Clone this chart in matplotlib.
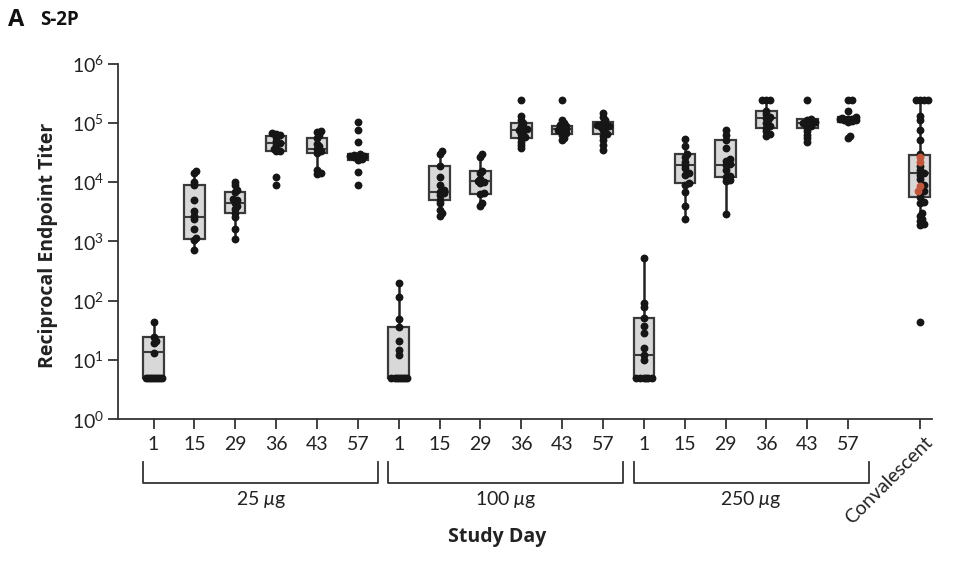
import numpy as np
import matplotlib
matplotlib.use("Agg")
import matplotlib.pyplot as plt

# ---- data ----
day_labels = ["1", "15", "29", "36", "43", "57"]
dose_labels = ["25 $\\mu$g", "100 $\\mu$g", "250 $\\mu$g"]

# individual titers per study day, one list per dose
pts_25 = [
    [5] * 9 + [13, 19, 21, 24, 44],
    [15500, 14000, 10200, 8900, 4900, 3200, 2700, 2400, 1650, 1150, 1050, 720],
    [10200, 8900, 7500, 6700, 5200, 4900, 4400, 3900, 3500, 3000, 2600, 1650, 1100],
    [68000, 66000, 62000, 58000, 50000, 45000, 42000, 36000, 34000, 33000, 12300, 8900],
    [74000, 70000, 62000, 56000, 44000, 40000, 36000, 33000, 31000, 16000, 14500, 13700],
    [104000, 76000, 47000, 30000, 29000, 28000, 27500, 27000, 26000, 25000, 24000, 15000, 9000],
]
pts_100 = [
    [5] * 8 + [12, 15, 21, 36, 50, 114, 200],
    [33500, 30000, 18600, 12300, 8900, 7500, 6900, 6500, 6000, 5000, 4400, 3400, 3000, 2700],
    [29500, 27000, 15500, 14000, 11500, 10500, 10000, 9500, 6500, 6300, 4400, 4000],
    [245000, 132000, 110000, 100000, 90000, 82000, 78000, 76000, 72000, 65000, 58000, 55000, 48000, 42000, 37000],
    [245000, 112000, 100000, 92000, 88000, 82000, 78000, 76000, 72000, 68000, 63000, 56000, 51000],
    [145000, 125000, 110000, 100000, 92000, 88000, 86000, 82000, 75000, 64000, 60000, 51000, 43000, 35000],
]
pts_250 = [
    [5] * 6 + [10, 12, 16, 29, 37, 52, 79, 93, 520],
    [53000, 40000, 30000, 27000, 22000, 19400, 17000, 14000, 13000, 9600, 8900, 6900, 3900, 2400],
    [76000, 63000, 51000, 38000, 25000, 23000, 20000, 19400, 16000, 12500, 12000, 11000, 10500, 2900],
    [245000, 245000, 245000, 158000, 140000, 125000, 120000, 110000, 100000, 90000, 83000, 72000, 64000, 59000],
    [245000, 115000, 110000, 105000, 100000, 98000, 95000, 88000, 81000, 72000, 62000, 55000, 48000],
    [245000, 245000, 159000, 125000, 120000, 118000, 116000, 114000, 112000, 110000, 106000, 102000, 60000, 55000],
]
pts_conv = [245000, 245000, 245000, 245000, 130000, 110000, 76000, 51000, 30000, 19000,
            16000, 14000, 13000, 11500, 9000, 7000, 6500, 5700, 4700, 4400, 3000,
            2700, 2400, 2200, 2000, 1900, 43]
pts_conv_red = [26000, 22000, 8500, 7200]

# box stats: whislo, q1, med, q3, whishi
box_25 = [[5, 5, 13.5, 24, 44], [720, 1100, 2600, 9000, 15500], [1100, 3000, 4400, 6700, 10200],
          [33000, 34000, 45000, 60000, 68000], [13700, 31500, 36000, 56000, 74000],
          [24000, 24000, 27000, 29700, 29700]]
box_100 = [[5, 5, 5, 36, 200], [2700, 5000, 6900, 18600, 33500], [4000, 6300, 10500, 15500, 29500],
           [37000, 55000, 76000, 100000, 132000], [51000, 66000, 78000, 89000, 112000],
           [35000, 64000, 86000, 105000, 145000]]
box_250 = [[5, 5, 12, 52, 520], [2400, 9600, 19400, 29500, 53000], [2900, 12000, 19400, 51000, 76000],
           [59000, 83000, 120000, 158000, 245000], [48000, 81000, 100000, 115000, 115000],
           [102000, 102000, 114000, 123000, 123000]]
box_conv = [1900, 5700, 14000, 29000, 245000]

CONV_POS = 18.75


def swarm(vals, center, px_x=41.0, px_y=59.3, dmin=3.0, step=2.0, maxoff=9.0):
    """petit beeswarm : decale les points qui se chevauchent"""
    vals = np.asarray(vals, dtype=float)
    out = np.full(len(vals), float(center))
    placed = []
    cands = [0.0]
    k = 1
    while k * step <= maxoff:
        cands += [k * step, -k * step]
        k += 1
    for i in np.argsort(vals):
        y = np.log10(vals[i]) * px_y
        best, best_d = 0.0, -1
        for c in cands:
            d = min([np.hypot(c - px, y - py) for px, py in placed] + [1e9])
            if d >= dmin:
                best = c
                break
            if d > best_d:
                best, best_d = c, d
        placed.append((best, y))
        out[i] = center + best / px_x
    return out


plt.rcParams["font.family"] = ["Lato", "DejaVu Sans"]
plt.rcParams["mathtext.fontset"] = "custom"
plt.rcParams["mathtext.rm"] = "Lato"
plt.rcParams["mathtext.it"] = "Lato:italic"

fig = plt.figure(figsize=(9.6, 5.66), dpi=100)
ax = fig.add_axes([0.1229, 0.2592, 0.8479, 0.6286])

all_pts = pts_25 + pts_100 + pts_250
all_box = box_25 + box_100 + box_250 + [box_conv]
positions = list(range(18)) + [CONV_POS]

stats = []
for b in all_box:
    stats.append({"whislo": b[0], "q1": b[1], "med": b[2], "q3": b[3], "whishi": b[4], "fliers": []})

ax.bxp(stats, positions=positions, widths=0.5, patch_artist=True, showfliers=False, showcaps=False,
       boxprops=dict(facecolor="#d8d8d8", edgecolor="#3a3a3a", linewidth=1.6),
       medianprops=dict(color="#3a3a3a", linewidth=1.5),
       whiskerprops=dict(color="#222222", linewidth=1.8))

for pos, vals in zip(range(18), all_pts):
    ax.scatter(swarm(vals, pos), vals, s=32, c="#161616", linewidths=0, zorder=3)

conv_all = pts_conv + pts_conv_red
xc = swarm(conv_all, CONV_POS)
n_black = len(pts_conv)
ax.scatter(xc[:n_black], pts_conv, s=32, c="#161616", linewidths=0, zorder=3)
ax.scatter(xc[n_black:], pts_conv_red, s=32, c="#c4553b", linewidths=0, zorder=4)

ax.set_yscale("log")
ax.set_ylim(1, 1e6)
ax.set_xlim(-0.87, 19.05)
ax.set_yticks([10 ** k for k in range(7)])
ax.set_yticklabels(["$\\mathregular{10^{%d}}$" % k for k in range(7)])
ax.minorticks_off()
ax.set_xticks(positions)
ax.set_xticklabels(day_labels * 3 + [""])

for side in ["top", "right"]:
    ax.spines[side].set_visible(False)
for side in ["left", "bottom"]:
    ax.spines[side].set_color("#333333")
    ax.spines[side].set_linewidth(1.3)
ax.tick_params(axis="both", direction="out", length=7, width=1.3, color="#333333",
               labelsize=14, labelcolor="#222222")
ax.tick_params(axis="x", pad=5)
ax.tick_params(axis="y", pad=3)

# etiquette convalescent en diagonale
ax.text(CONV_POS + 0.1, -0.04, "Convalescent", transform=ax.get_xaxis_transform(),
        rotation=45, ha="right", va="top", rotation_mode="anchor", fontsize=14, color="#222222")

# accolades des doses
tr = ax.get_xaxis_transform()
for g, lab in enumerate(dose_labels):
    x0 = 6 * g - 0.25
    x1 = 6 * g + 5.5
    ax.plot([x0, x0, x1, x1], [-0.12, -0.178, -0.178, -0.12], transform=tr, clip_on=False,
            color="#333333", linewidth=1.3)
    ax.text((x0 + x1) / 2, -0.225, lab, transform=tr, ha="center", va="center",
            fontsize=14, color="#222222")

ax.set_ylabel("Reciprocal Endpoint Titer", fontsize=14, fontweight="bold",
              family=["Open Sans", "DejaVu Sans"], color="#222222")
ax.yaxis.set_label_coords(-0.074, 0.49)
fig.text(497 / 960, 1 - 537 / 566, "Study Day", ha="center", va="center", fontsize=14,
         fontweight="bold", family=["Open Sans", "DejaVu Sans"], color="#222222")

fig.text(0.008, 1 - 20 / 566, "A", ha="left", va="center", fontsize=17, fontweight="bold",
         family=["Open Sans", "DejaVu Sans"], color="#111111")
fig.text(0.042, 1 - 20 / 566, "S-2P", ha="left", va="center", fontsize=13.5, fontweight="bold",
         family=["Open Sans", "DejaVu Sans"], color="#111111")

fig.savefig("out.png", dpi=100)
